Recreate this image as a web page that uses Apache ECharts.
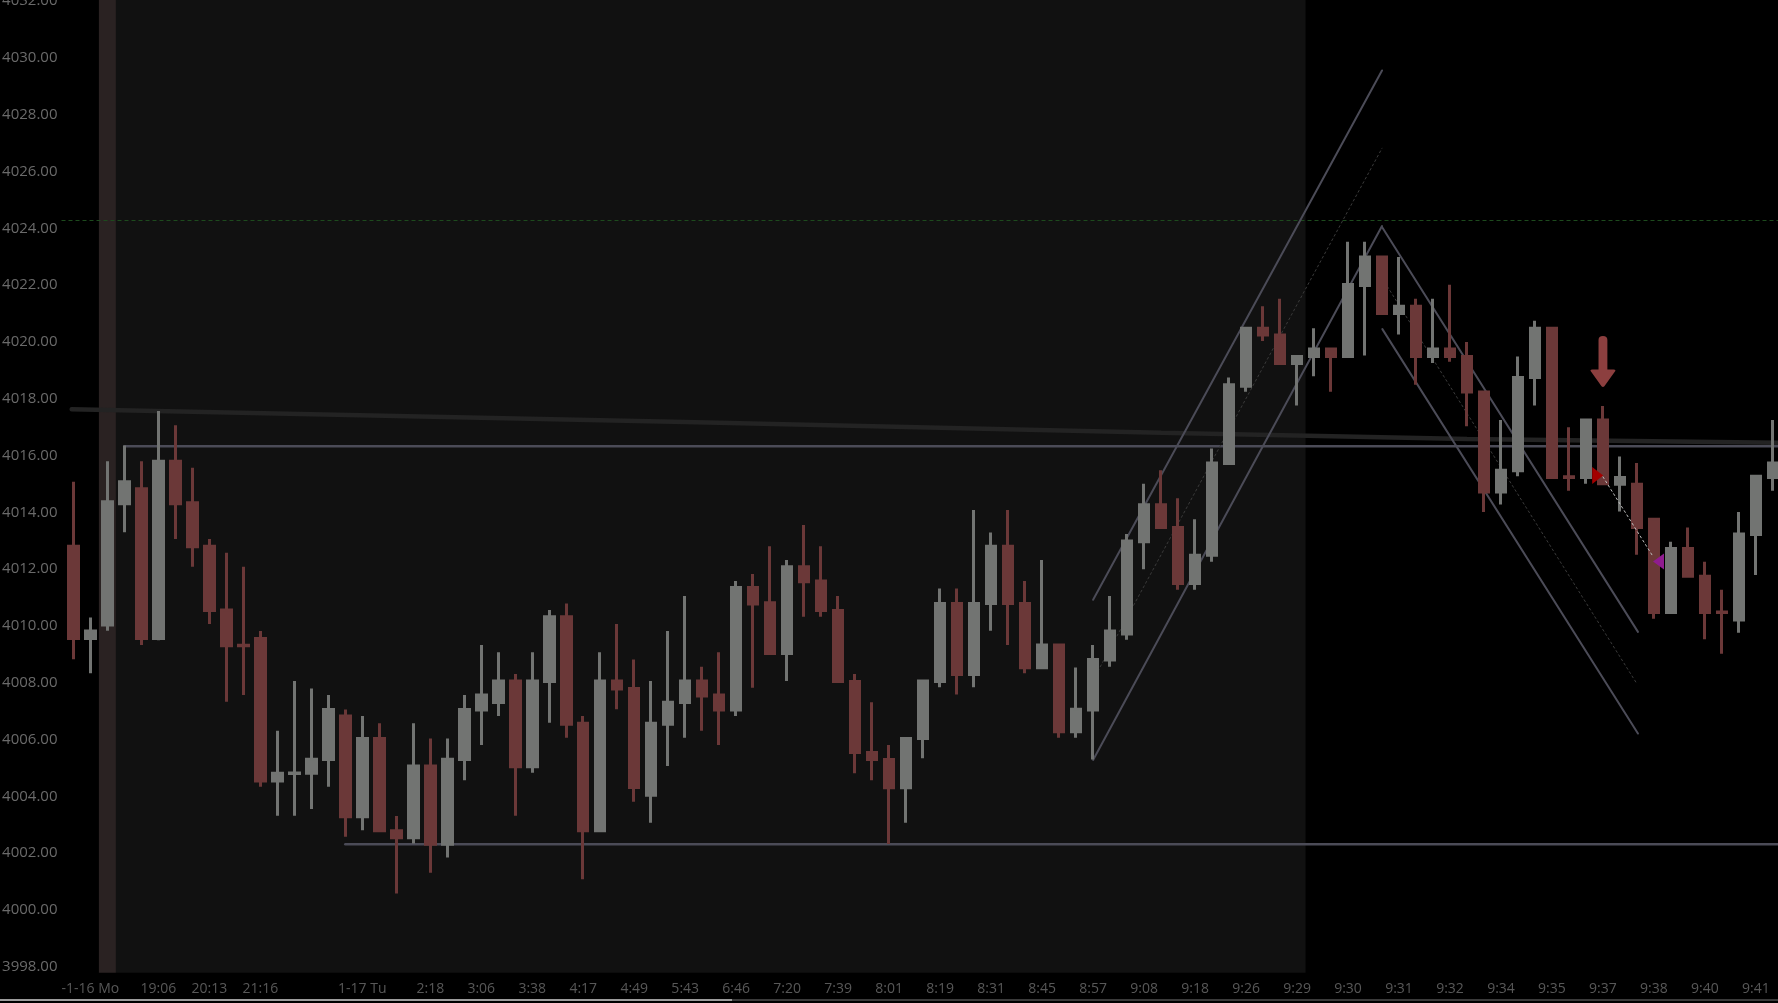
<!DOCTYPE html>
<html>
<head>
<meta charset="utf-8">
<title>ES 1 min</title>
<script src="https://cdn.jsdelivr.net/npm/echarts@6/dist/echarts.min.js"></script>
<style>
    html, body { margin: 0; padding: 0; background: #000; }
    #main { width: 1778px; height: 1003px; }
</style>
</head>
<body>
<div id="main"></div>
<script>
// bar values
const opens = [
    4012.81, 4009.56, 4010.03, 4014.30, 4014.83, 4009.56, 4015.80, 4014.34, 4012.81, 4010.56,
    4009.32, 4009.56, 4004.54, 4004.80, 4004.81, 4005.30, 4006.83, 4003.28, 4006.04, 4002.79,
    4002.54, 4005.07, 4002.31, 4005.30, 4007.04, 4007.30, 4008.06, 4005.04, 4008.04, 4010.32,
    4006.57, 4002.79, 4008.06, 4007.80, 4004.04, 4006.54, 4007.30, 4008.06, 4007.57, 4007.04,
    4011.35, 4010.82, 4009.03, 4012.08, 4011.58, 4010.54, 4008.04, 4005.54, 4005.30, 4004.30,
    4006.04, 4008.04, 4010.79, 4008.29, 4010.79, 4012.81, 4010.79, 4008.53, 4009.33, 4006.27,
    4007.04, 4008.80, 4009.72, 4012.96, 4014.27, 4013.47, 4011.49, 4012.49, 4015.72, 4018.44,
    4020.48, 4020.24, 4019.24, 4019.49, 4019.75, 4019.49, 4021.99, 4022.99, 4021.00, 4021.26,
    4019.49, 4019.75, 4019.49, 4018.24, 4014.72, 4015.46, 4018.75, 4020.48, 4015.25, 4015.23,
    4017.25, 4014.99, 4014.99, 4013.76, 4010.47, 4012.73, 4011.75, 4010.49, 4010.21, 4013.22,
    4015.23
];
const closes = [
    4009.56, 4009.82, 4014.37, 4015.08, 4009.56, 4015.80, 4014.30, 4012.79, 4010.54, 4009.30,
    4009.30, 4004.54, 4004.81, 4004.82, 4005.31, 4007.06, 4003.28, 4006.04, 4002.79, 4002.54,
    4005.07, 4002.31, 4005.31, 4007.06, 4007.57, 4008.06, 4005.04, 4008.06, 4010.32, 4006.54,
    4002.79, 4008.06, 4007.78, 4004.31, 4006.57, 4007.31, 4008.06, 4007.53, 4007.04, 4011.35,
    4010.77, 4009.03, 4012.08, 4011.56, 4010.54, 4008.04, 4005.54, 4005.30, 4004.30, 4006.04,
    4008.06, 4010.79, 4008.29, 4010.79, 4012.81, 4010.79, 4008.53, 4009.33, 4006.27, 4007.07,
    4008.82, 4009.82, 4012.99, 4014.27, 4013.47, 4011.49, 4012.49, 4015.74, 4018.49, 4020.48,
    4020.24, 4019.24, 4019.49, 4019.75, 4019.49, 4022.02, 4022.99, 4021.00, 4021.26, 4019.49,
    4019.75, 4019.49, 4018.24, 4014.72, 4015.48, 4018.75, 4020.48, 4015.23, 4015.23, 4017.25,
    4015.01, 4015.23, 4013.47, 4010.47, 4012.73, 4011.75, 4010.47, 4010.47, 4013.24, 4015.27,
    4015.74
];
const lows = [
    4008.83, 4008.33, 4009.83, 4013.30, 4009.33, 4009.50, 4013.06, 4012.08, 4010.07, 4007.33,
    4007.57, 4004.34, 4003.32, 4003.32, 4003.55, 4004.34, 4002.58, 4002.81, 4002.79, 4000.58,
    4002.34, 4001.31, 4001.85, 4004.57, 4005.81, 4006.83, 4003.32, 4004.83, 4006.59, 4006.06,
    4001.08, 4002.79, 4007.07, 4003.81, 4003.07, 4005.07, 4006.06, 4006.31, 4005.81, 4006.83,
    4007.82, 4009.03, 4008.06, 4010.32, 4010.32, 4008.04, 4004.81, 4004.57, 4002.32, 4003.07,
    4005.34, 4007.84, 4007.59, 4007.84, 4009.83, 4009.33, 4008.33, 4008.53, 4006.06, 4006.06,
    4005.30, 4008.56, 4009.51, 4012.00, 4013.47, 4011.27, 4011.27, 4012.26, 4015.72, 4018.25,
    4020.03, 4019.24, 4017.76, 4018.79, 4018.25, 4019.49, 4019.52, 4021.00, 4020.26, 4018.49,
    4019.26, 4019.30, 4017.03, 4014.01, 4014.28, 4015.27, 4017.76, 4015.23, 4014.76, 4015.01,
    4015.01, 4014.03, 4012.51, 4010.25, 4010.47, 4011.75, 4009.53, 4009.02, 4009.76, 4011.79,
    4014.76
];
const highs = [
    4015.08, 4010.30, 4015.80, 4016.35, 4015.80, 4017.57, 4017.07, 4015.57, 4013.06, 4012.58,
    4012.08, 4009.82, 4006.31, 4008.06, 4007.80, 4007.57, 4007.06, 4006.83, 4006.57, 4003.31,
    4006.57, 4006.04, 4006.04, 4007.57, 4009.33, 4009.07, 4008.31, 4009.07, 4010.56, 4010.79,
    4006.83, 4009.07, 4010.07, 4008.82, 4008.06, 4009.82, 4011.05, 4008.56, 4009.07, 4011.58,
    4011.83, 4012.81, 4012.32, 4013.55, 4012.81, 4011.05, 4008.31, 4007.31, 4005.81, 4006.04,
    4008.06, 4011.32, 4011.32, 4014.08, 4013.29, 4014.08, 4011.58, 4012.32, 4009.33, 4008.54,
    4009.33, 4011.05, 4013.24, 4015.01, 4015.48, 4014.50, 4013.76, 4016.25, 4018.75, 4020.48,
    4021.26, 4021.52, 4019.49, 4020.48, 4019.75, 4023.53, 4023.53, 4022.99, 4022.99, 4021.52,
    4021.52, 4022.01, 4020.00, 4018.24, 4017.25, 4019.49, 4020.75, 4020.48, 4017.00, 4017.25,
    4017.74, 4015.97, 4015.74, 4013.76, 4012.96, 4013.47, 4012.26, 4011.27, 4014.01, 4015.27,
    4017.25
];

// time labels and the bar they sit under
const tickIdx = [1, 5, 8, 11, 17, 21, 24, 27, 30, 33, 36, 39, 42, 45, 48, 51, 54, 57, 60, 63,
    66, 69, 72, 75, 78, 81, 84, 87, 90, 93, 96, 99];
const tickText = ['-1-16 Mo', '19:06', '20:13', '21:16', '1-17 Tu', '2:18', '3:06', '3:38', '4:17',
    '4:49', '5:43', '6:46', '7:20', '7:39', '8:01', '8:19', '8:31', '8:45', '8:57', '9:08', '9:18',
    '9:26', '9:29', '9:30', '9:31', '9:32', '9:34', '9:35', '9:37', '9:38', '9:40', '9:41'];
const priceTicks = [3998, 4000, 4002, 4004, 4006, 4008, 4010, 4012, 4014, 4016, 4018, 4020,
    4022, 4024, 4026, 4028, 4030, 4032];

// session shading and the highlighted bar (bar index bounds)
const sessionSpan = [2.5, 72.5];
const markedBar = [1.5, 2.5];

// drawn levels and trend lines: [bar index, price]
const xMin = -0.7;
const xMax = 100.3;
const levelGreen = 4024.3;
const levelHigh = [[3, 4016.33], [xMax, 4016.33]];
const levelLow = [[16, 4002.31], [xMax, 4002.31]];
const slowLine = [[-0.1, 4017.63], [36, 4017.18], [64, 4016.8], [82, 4016.58], [100.3, 4016.45]];
const upUpper = [[60, 4010.92], [77, 4029.56]];
const upLower = [[60, 4005.28], [77, 4024.08]];
const upMid = [[60, 4008.1], [77, 4026.82]];
const downUpper = [[77, 4024.05], [92.06, 4009.79]];
const downLower = [[77.02, 4020.45], [92.06, 4006.21]];
const downMid = [[77, 4022.25], [91.96, 4008.0]];
const tradeLine = [[90, 4015.25], [92.94, 4012.45]];
const signalArrow = [90, 4019.31];
const entryMark = [89.69, 4015.3];
const exitMark = [93.27, 4012.27];

const candles = opens.map(function (o, i) {
    return [i, o, closes[i], lows[i], highs[i]];
});

function drawn(points, color, width, type, z) {
    return {
        type: 'line',
        data: points,
        symbol: 'none',
        silent: true,
        z: z || 3,
        lineStyle: { color: color, width: width, type: type || 'solid', cap: 'round' }
    };
}

const chart = echarts.init(document.getElementById('main'));

chart.setOption({
    backgroundColor: '#000',
    animation: false,
    grid: { left: 61.5, right: 0, top: 0, bottom: 30.3, outerBoundsMode: 'none' },
    xAxis: {
        type: 'value',
        min: xMin,
        max: xMax,
        axisLine: { show: false },
        axisTick: { show: false },
        splitLine: { show: false },
        axisLabel: {
            customValues: tickIdx,
            formatter: function (v) {
                const k = tickIdx.indexOf(Math.round(v));
                return k >= 0 ? tickText[k] : '';
            },
            color: '#585858',
            fontSize: 14,
            fontFamily: 'Open Sans',
            margin: 9
        }
    },
    yAxis: {
        type: 'value',
        min: 3997.79,
        max: 4032.04,
        axisLine: { show: false },
        axisTick: { show: false },
        splitLine: { show: false },
        axisLabel: {
            customValues: priceTicks,
            formatter: function (v) { return v.toFixed(2); },
            color: '#6a6a6a',
            fontSize: 15,
            fontFamily: 'Open Sans',
            margin: 4
        }
    },
    series: [
        {
            type: 'candlestick',
            data: candles,
            z: 4,
            barWidth: 10,
            itemStyle: {
                color: '#727472',
                color0: '#6b3838',
                borderColor: '#727472',
                borderColor0: '#6b3838',
                borderWidth: 3
            },
            markArea: {
                silent: true,
                z: 1,
                data: [
                    [{ xAxis: sessionSpan[0], itemStyle: { color: '#111111' } }, { xAxis: sessionSpan[1] }],
                    [{ xAxis: markedBar[0], itemStyle: { color: '#2a2222' } }, { xAxis: markedBar[1] }]
                ]
            },
            markLine: {
                silent: true,
                symbol: 'none',
                z: 2,
                label: { show: false },
                lineStyle: { color: '#1d4a1d', width: 1, type: [4, 3] },
                data: [{ yAxis: levelGreen }]
            },
            markPoint: {
                silent: true,
                z: 7,
                label: { show: false },
                data: [
                    {
                        coord: signalArrow,
                        symbol: 'path://M8.5,4 Q8.5,0 12.5,0 Q16.5,0 16.5,4 L16.5,33 L22,33 Q25,33 23,35.5 L13.8,49.5 Q12.5,51 11.2,49.5 L2,35.5 Q0,33 3,33 L8.5,33 Z',
                        symbolSize: [25, 51],
                        itemStyle: { color: '#8c3f3f' }
                    },
                    {
                        coord: entryMark,
                        symbol: 'path://M0,0 L10,8.5 L0,17 Z',
                        symbolSize: [11, 17],
                        itemStyle: { color: '#a30000' }
                    },
                    {
                        coord: exitMark,
                        symbol: 'path://M10,0 L0,8 L10,16 Z',
                        symbolSize: [11, 16],
                        itemStyle: { color: '#8f1c8f' }
                    }
                ]
            }
        },
        drawn(slowLine, '#232323', 4.5),
        drawn(levelHigh, '#4b4b57', 2.5),
        drawn(levelLow, '#4b4b57', 2.5),
        drawn(upUpper, '#4b4b57', 2),
        drawn(upLower, '#4b4b57', 2),
        drawn(upMid, '#3a3a3a', 1, [2, 3]),
        drawn(downUpper, '#4b4b57', 2),
        drawn(downLower, '#4b4b57', 2),
        drawn(downMid, '#3a3a3a', 1, [2, 3]),
        drawn(tradeLine, '#bdbdbd', 1, [2, 3], 6)
    ],
    graphic: [
        { type: 'rect', silent: true, shape: { x: 0, y: 999, width: 732, height: 2 }, style: { fill: '#9c9c9c' } },
        { type: 'rect', silent: true, shape: { x: 732, y: 999, width: 1046, height: 2 }, style: { fill: '#3a3a3a' } }
    ]
});
</script>
</body>
</html>
